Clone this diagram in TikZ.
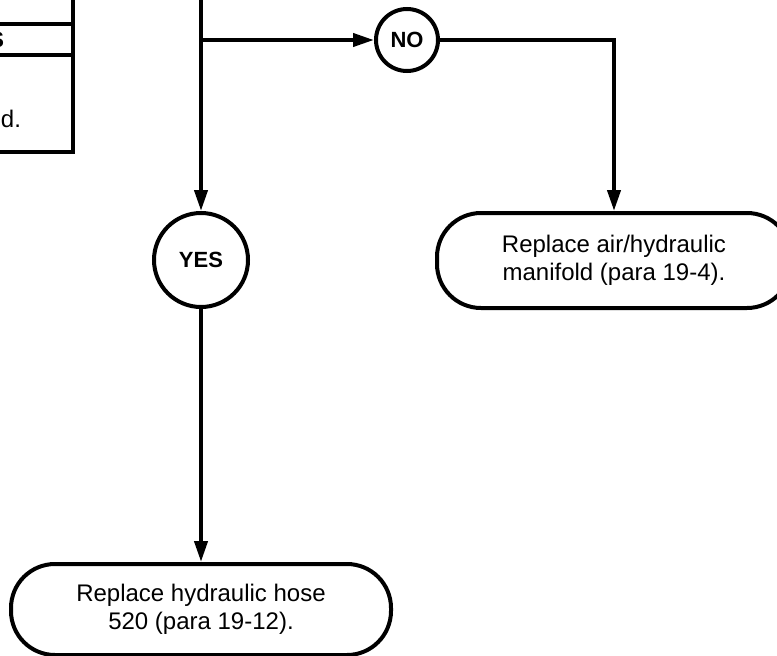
\documentclass[tikz,border=0pt]{standalone}
\usepackage{fontspec}
\setmainfont{Liberation Sans}
\usetikzlibrary{arrows.meta}

\begin{document}
\begin{tikzpicture}[
x=1pt,y=-1pt,
line width=4pt,
box/.style={draw,rounded corners=44pt,align=center,inner sep=0pt,font=\fontsize{24}{28}\selectfont},
ans/.style={draw,circle,inner sep=0pt,font=\bfseries\fontsize{22}{24}\selectfont},
arr/.style={-{Triangle[length=21pt,width=13pt]}}
]
\useasboundingbox (0,0) rectangle (777,656);
\clip (0,0) rectangle (777,656);
% previous check box (cut off at the left)
\draw (0,24) -- (73,24);
\draw (0,55) -- (73,55);
\draw (73,-5) -- (73,152) -- (-5,152);
\node[anchor=east,inner sep=0pt,font=\bfseries\fontsize{22}{24}\selectfont] (hdr) at (6,40) {S};
\node[anchor=base east,inner sep=0pt,font=\fontsize{24}{28}\selectfont] (note) at (23,127) {ld.};
% answers and actions
\coordinate (top) at (201,-5);
\coordinate (jn) at (201,40);
\node[ans,minimum size=62pt] (no) at (407,40) {NO};
\node[ans,minimum size=94pt] (yes) at (201,260) {YES};
\node[box,minimum width=354pt,minimum height=95pt] (mani) at (614,260.5) {Replace air/hydraulic\\manifold (para 19-4).};
\node[box,minimum width=380pt,minimum height=91pt] (hose) at (201,609.5) {Replace hydraulic hose\\520 (para 19-12).};
\draw (top) -- (jn);
\draw[arr] (jn) -- (yes);
\draw[arr] (jn) -- (no);
\draw[arr] (no) -| (mani);
\draw[arr] (yes) -- (hose);
\end{tikzpicture}
\end{document}
